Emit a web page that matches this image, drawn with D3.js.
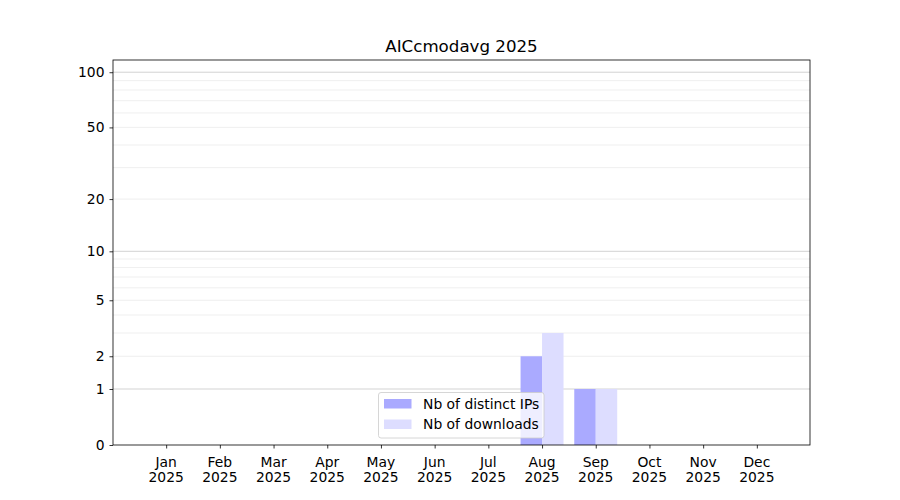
<!DOCTYPE html>
<html><head><meta charset="utf-8">
<script src="https://cdn.jsdelivr.net/npm/d3@7"></script>
<style>body{margin:0;background:#fff}svg{font-family:"DejaVu Sans",sans-serif}</style>
</head><body><div id="chart"></div>
<script>
const months = ["Jan","Feb","Mar","Apr","May","Jun","Jul","Aug","Sep","Oct","Nov","Dec"];
const year = "2025";
const distinctIPs = [0,0,0,0,0,0,0,2,1,0,0,0];
const downloads   = [0,0,0,0,0,0,0,3,1,0,0,0];
const yTicks = [0,1,2,5,10,20,50,100];
const majorGrid = [1,10,100];
const minorGrid = [2,3,4,5,6,7,8,9,20,30,40,50,60,70,80,90];
const seriesNames = ["Nb of distinct IPs","Nb of downloads"];
const colors = ["#aaaaff","#ddddff"];
const title = "AICcmodavg 2025";

const W=900,H=500, L=113, R=810, T=60, B=445;
const FS="13.89px";
const svg=d3.select("#chart").append("svg").attr("width",W).attr("height",H);
const x=d3.scaleLinear().domain([-0.99,11.99]).range([L,R]);
const y=d3.scaleSymlog().constant(1).domain([0,116.5]).range([B,T]);
const bw=0.4;

const g=svg.append("g");
g.selectAll("line.minor").data(minorGrid).join("line")
 .attr("x1",L).attr("x2",R).attr("y1",d=>y(d)).attr("y2",d=>y(d))
 .attr("stroke","#ebebeb").attr("stroke-width",0.8);
g.selectAll("line.major").data(majorGrid).join("line")
 .attr("x1",L).attr("x2",R).attr("y1",d=>y(d)).attr("y2",d=>y(d))
 .attr("stroke","#c8c8c8").attr("stroke-width",0.8);

svg.append("g").selectAll("rect").data(distinctIPs.map((v,i)=>({v,i}))).join("rect")
 .attr("x",d=>x(d.i-bw)).attr("width",d=>x(d.i)-x(d.i-bw))
 .attr("y",d=>y(d.v)).attr("height",d=>y(0)-y(d.v)).attr("fill",colors[0]);
svg.append("g").selectAll("rect").data(downloads.map((v,i)=>({v,i}))).join("rect")
 .attr("x",d=>x(d.i)).attr("width",d=>x(d.i+bw)-x(d.i))
 .attr("y",d=>y(d.v)).attr("height",d=>y(0)-y(d.v)).attr("fill",colors[1]);

// axes
const yAx=svg.append("g").attr("transform",`translate(${L},0)`)
 .call(d3.axisLeft(y).tickValues(yTicks).tickFormat(d3.format("d")).tickSize(3.5).tickPadding(5));
const xAx=svg.append("g").attr("transform",`translate(0,${B})`)
 .call(d3.axisBottom(x).tickValues(d3.range(12)).tickFormat(()=>"").tickSize(3.5));
[yAx,xAx].forEach(a=>{a.select(".domain").remove();a.selectAll("line").attr("stroke","#000").attr("stroke-width",0.8);
 a.selectAll("text").attr("font-size",FS).attr("fill","#000").attr("font-family","DejaVu Sans");});
const xl=svg.append("g");
months.forEach((m,i)=>{
 const t=xl.append("text").attr("x",x(i)).attr("y",B+21.5).attr("text-anchor","middle").attr("font-size",FS);
 t.append("tspan").attr("x",x(i)).text(m);
 t.append("tspan").attr("x",x(i)).attr("dy","1.15em").text(year);
});
svg.append("rect").attr("x",L).attr("y",T).attr("width",R-L).attr("height",B-T)
 .attr("fill","none").attr("stroke","#000").attr("stroke-width",0.8);

svg.append("text").attr("x",(L+R)/2).attr("y",52).attr("text-anchor","middle").attr("font-size","16.67px").text(title);

// legend
const lg=svg.append("g");
lg.append("rect").attr("x",378.5).attr("y",392.5).attr("width",165.5).attr("height",45.5).attr("rx",2.5)
 .attr("fill","#fff").attr("fill-opacity",0.8).attr("stroke","#cccccc").attr("stroke-width",0.8);
seriesNames.forEach((s,i)=>{
 lg.append("rect").attr("x",384).attr("y",399+i*20.5).attr("width",27.5).attr("height",9.5).attr("fill",colors[i]);
 lg.append("text").attr("x",423).attr("y",408.8+i*20.5).attr("font-size",FS).text(s);
});
</script></body></html>
